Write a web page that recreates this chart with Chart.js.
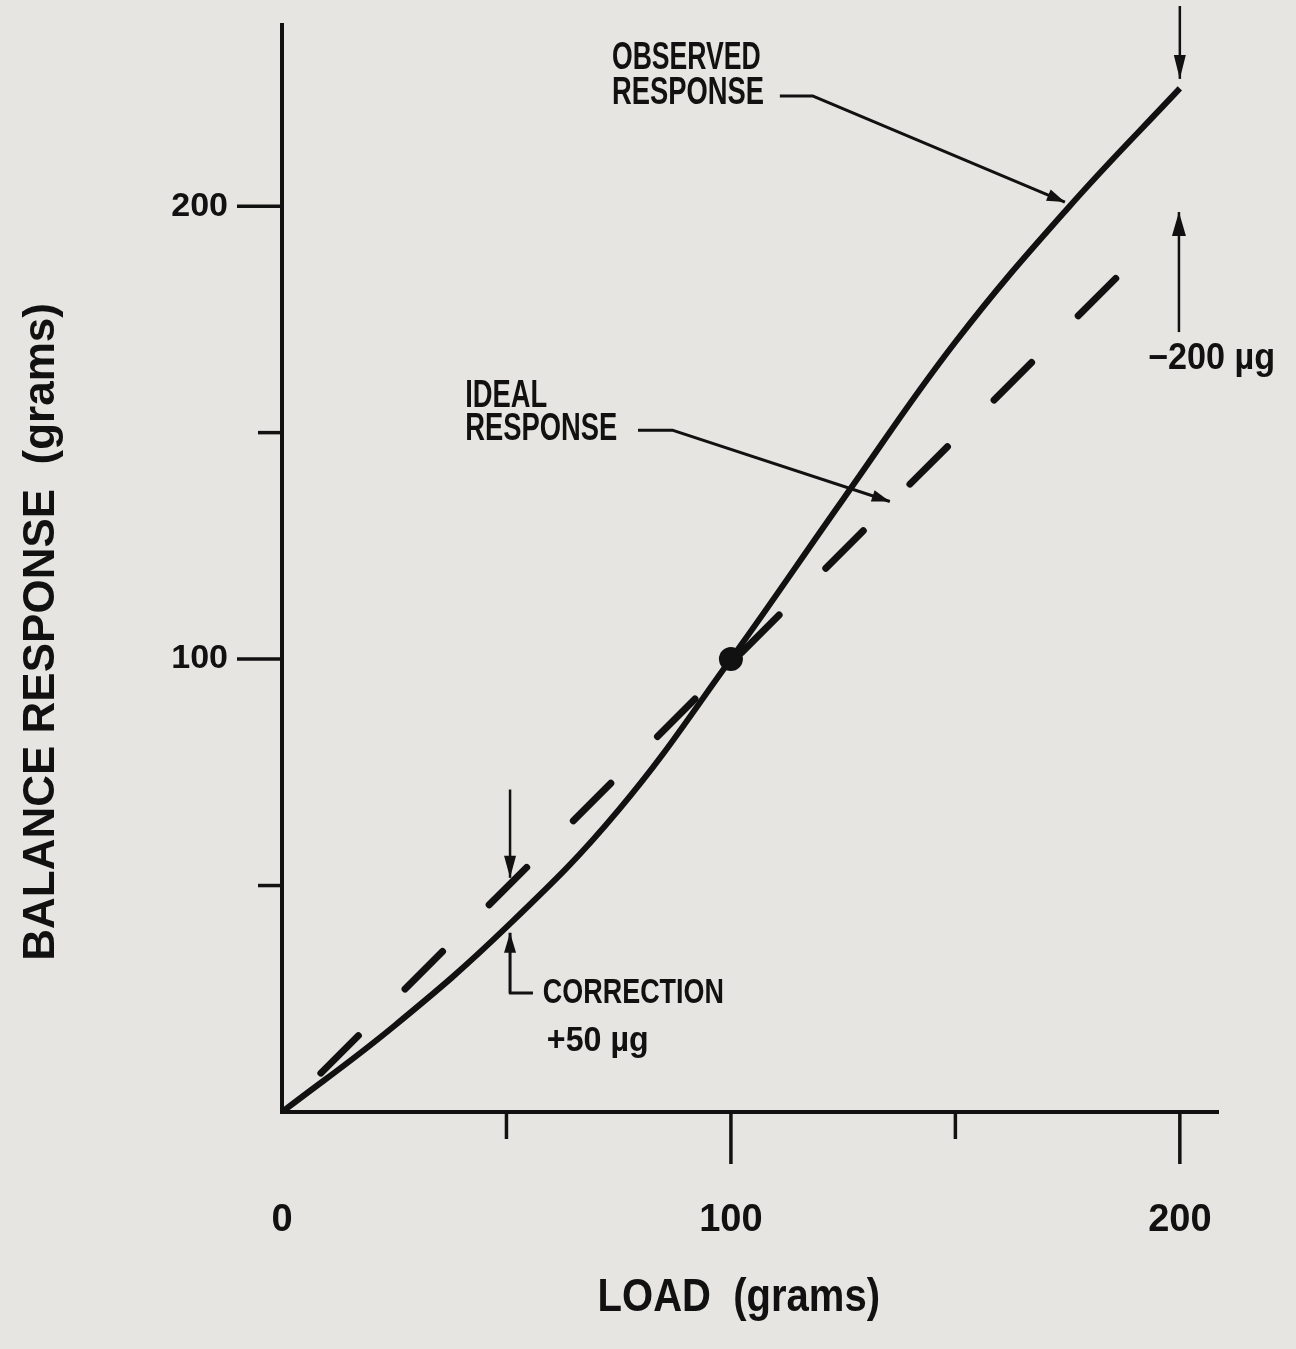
<!DOCTYPE html>
<html>
<head>
<meta charset="utf-8">
<title>Balance response</title>
<script src="https://cdn.jsdelivr.net/npm/chart.js@4.4.1/dist/chart.umd.min.js"></script>
<style>
    html, body { margin: 0; padding: 0; background: #e7e5e1; }
    #wrap { width: 1296px; height: 1349px; }
</style>
</head>
<body>
<div id="wrap"><canvas id="main-graph" width="1296" height="1349"></canvas></div>
<script>
// Load (grams) and balance response (grams)
const loadGrams = [0, 25, 50, 75, 100, 125, 150, 175, 200];
const observedResponse = [0, 19, 40.8, 66.7, 100, 135.3, 170, 199.5, 226];
const idealLoad = [0, 190];
const idealResponse = [0, 188.3];
const checkLoad = [100];
const checkResponse = [100];

const xTickLabels = ['0', '100', '200'];
const yTickLabels = ['100', '200'];
const xTitle = 'LOAD  (grams)';
const yTitle = 'BALANCE RESPONSE  (grams)';

const INK = '#111111';
const SANS = "'Liberation Sans', Arial, sans-serif";

const toPoints = (xs, ys) => xs.map((x, i) => ({ x: x, y: ys[i] }));

// squeezed text, x is the left edge
const drawText = (ctx, text, x, y, size, squeeze) => {
    ctx.save();
    ctx.font = 'bold ' + size + 'px ' + SANS;
    ctx.textAlign = 'left';
    ctx.textBaseline = 'middle';
    ctx.fillStyle = INK;
    ctx.translate(x, y);
    ctx.scale(squeeze, 1);
    ctx.fillText(text, 0, 0);
    ctx.restore();
};

const arrowHead = (ctx, fromX, fromY, tipX, tipY, len, half) => {
    const a = Math.atan2(tipY - fromY, tipX - fromX);
    ctx.beginPath();
    ctx.moveTo(tipX, tipY);
    ctx.lineTo(tipX - len * Math.cos(a) + half * Math.sin(a), tipY - len * Math.sin(a) - half * Math.cos(a));
    ctx.lineTo(tipX - len * Math.cos(a) - half * Math.sin(a), tipY - len * Math.sin(a) + half * Math.cos(a));
    ctx.closePath();
    ctx.fill();
};

// polyline, arrow head at the last point
const leader = (ctx, pts, width, headLen, headHalf) => {
    ctx.save();
    ctx.strokeStyle = INK;
    ctx.fillStyle = INK;
    ctx.lineWidth = width;
    ctx.lineJoin = 'round';
    ctx.beginPath();
    pts.forEach((p, i) => (i === 0 ? ctx.moveTo(p[0], p[1]) : ctx.lineTo(p[0], p[1])));
    const n = pts.length;
    ctx.stroke();
    if (headLen) arrowHead(ctx, pts[n - 2][0], pts[n - 2][1], pts[n - 1][0], pts[n - 1][1], headLen, headHalf);
    ctx.restore();
};

const paperPlugin = {
    id: 'paper',
    beforeDraw: (chart) => {
        const ctx = chart.ctx;
        ctx.save();
        ctx.fillStyle = '#e7e5e1';
        ctx.fillRect(0, 0, chart.width, chart.height);
        ctx.restore();
    },
};

const axisPlugin = {
    id: 'axisExtras',
    afterDraw: (chart) => {
        const ctx = chart.ctx;
        const xs = chart.scales.x;
        const ys = chart.scales.y;
        const area = chart.chartArea;

        ctx.save();
        ctx.strokeStyle = INK;
        ctx.lineWidth = 3.5;
        // tick marks, longer where a label sits
        xs.ticks.forEach((t) => {
            if (t.value === 0) return;
            const px = xs.getPixelForValue(t.value);
            const len = xTickLabels.includes(String(t.value)) ? 52 : 27;
            ctx.beginPath();
            ctx.moveTo(px, area.bottom);
            ctx.lineTo(px, area.bottom + len);
            ctx.stroke();
        });
        ys.ticks.forEach((t) => {
            if (t.value === 0) return;
            const py = ys.getPixelForValue(t.value);
            const len = yTickLabels.includes(String(t.value)) ? 45 : 24;
            ctx.beginPath();
            ctx.moveTo(area.left, py);
            ctx.lineTo(area.left - len, py);
            ctx.stroke();
        });
        ctx.restore();

        // axis titles
        ctx.save();
        ctx.font = 'bold 44px ' + SANS;
        ctx.fillStyle = INK;
        ctx.textAlign = 'center';
        ctx.textBaseline = 'middle';
        ctx.translate(42, ys.getPixelForValue(106));
        ctx.rotate(-Math.PI / 2);
        ctx.fillText(yTitle, 0, 0);
        ctx.restore();

        drawText(ctx, xTitle, xs.getPixelForValue(70.3), 1298, 46, 0.87);

        // annotations, placed in data units
        const P = (x, y) => [xs.getPixelForValue(x), ys.getPixelForValue(y)];

        let p = P(73.5, 232.5);
        drawText(ctx, 'OBSERVED', p[0], p[1], 38, 0.7);
        p = P(73.5, 224.8);
        drawText(ctx, 'RESPONSE', p[0], p[1], 38, 0.72);
        leader(ctx, [P(110.9, 224.3), P(118.3, 224.3), P(174.4, 200.9)], 3, 18, 6);

        p = P(40.8, 158);
        drawText(ctx, 'IDEAL', p[0], p[1], 38, 0.72);
        p = P(40.8, 150.7);
        drawText(ctx, 'RESPONSE', p[0], p[1], 38, 0.72);
        leader(ctx, [P(79.3, 150.5), P(87.1, 150.5), P(135.4, 134.8)], 3, 18, 6);

        // -200 ug at full load
        leader(ctx, [P(200, 244.2), P(200, 228.1)], 2.5, 24, 6);
        leader(ctx, [P(199.8, 172.2), P(199.8, 198.7)], 2.5, 24, 7);
        p = P(192.9, 166.2);
        drawText(ctx, '\u2212200 \u00b5g', p[0], p[1], 36, 0.95);

        // +50 ug correction at half load
        leader(ctx, [P(50.8, 71.2), P(50.8, 51.7)], 2.5, 22, 6);
        leader(ctx, [P(55.9, 26.3), P(50.8, 26.3), P(50.8, 39.6)], 3, 20, 6);
        p = P(58.1, 26.3);
        drawText(ctx, 'CORRECTION', p[0], p[1], 35, 0.77);
        p = P(59, 15.5);
        drawText(ctx, '+50 \u00b5g', p[0], p[1], 35, 0.92);
    },
};

const data = {
    datasets: [
        {
            label: 'Observed response',
            data: toPoints(loadGrams, observedResponse),
            borderColor: INK,
            borderWidth: 6,
            tension: 0.4,
            pointRadius: 0,
            fill: false,
        },
        {
            label: 'Ideal response',
            data: toPoints(idealLoad, idealResponse),
            borderColor: INK,
            borderWidth: 7,
            borderDash: [53, 66],
            borderDashOffset: 64,
            borderCapStyle: 'round',
            pointRadius: 0,
            fill: false,
        },
        {
            label: 'Check point',
            data: toPoints(checkLoad, checkResponse),
            showLine: false,
            pointRadius: 12,
            pointBackgroundColor: INK,
            pointBorderWidth: 0,
        },
    ],
};

// tick labels sit past an invisible tick mark, the drawn marks come from the plugin
const hiddenTicks = { display: true, drawOnChartArea: false, drawTicks: true, tickColor: 'rgba(0,0,0,0)' };

const config = {
    type: 'line',
    data: data,
    options: {
        responsive: false,
        animation: false,
        devicePixelRatio: 1,
        layout: { padding: { top: 25, right: 78, left: 0, bottom: 0 } },
        plugins: {
            legend: { display: false },
            tooltip: { enabled: false },
        },
        scales: {
            x: {
                type: 'linear',
                min: 0,
                max: 208.5,
                afterFit: (scale) => { scale.height = 237; },
                grid: Object.assign({ tickLength: 82 }, hiddenTicks),
                border: { display: true, color: INK, width: 4 },
                ticks: {
                    stepSize: 50,
                    includeBounds: false,
                    autoSkip: false,
                    maxRotation: 0,
                    padding: 4,
                    color: INK,
                    font: { family: SANS, size: 38, weight: 'bold' },
                    callback: (v) => (xTickLabels.includes(String(v)) ? String(v) : ''),
                },
            },
            y: {
                type: 'linear',
                min: 0,
                max: 240,
                afterFit: (scale) => { scale.width = 282; },
                grid: Object.assign({ tickLength: 50 }, hiddenTicks),
                border: { display: true, color: INK, width: 4 },
                ticks: {
                    stepSize: 50,
                    includeBounds: false,
                    autoSkip: false,
                    padding: 4,
                    color: INK,
                    font: { family: SANS, size: 34, weight: 'bold' },
                    callback: (v) => (yTickLabels.includes(String(v)) ? String(v) : ''),
                },
            },
        },
    },
    plugins: [paperPlugin, axisPlugin],
};

const mainGraph = new Chart(document.getElementById('main-graph'), config);
</script>
</body>
</html>
